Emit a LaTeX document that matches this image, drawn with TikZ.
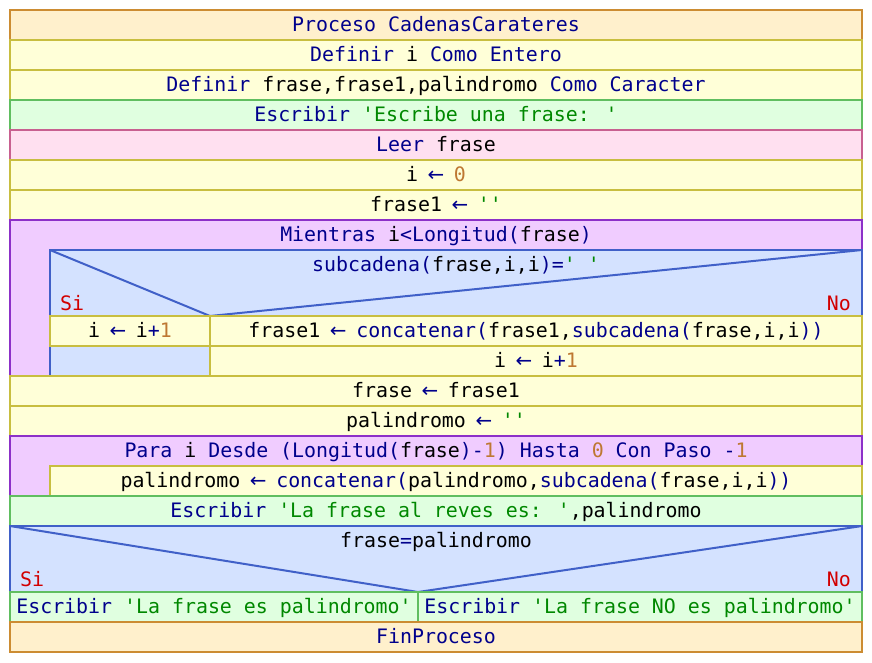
\documentclass[tikz,border=0pt]{standalone}
\usepackage{fontspec}
\usepackage{xcolor}
\usepackage{tikz}
\usetikzlibrary{positioning,calc}
\newfontfamily\psmono{DejaVu Sans Mono}
\newfontfamily\psarrow{DejaVu Sans}

\definecolor{kwblue}{RGB}{0,0,140}
\definecolor{txgreen}{RGB}{0,136,0}
\definecolor{nrbrown}{RGB}{190,120,50}
\definecolor{sinored}{RGB}{210,0,0}
\definecolor{procfill}{RGB}{255,240,204}
\definecolor{procline}{RGB}{204,140,50}
\definecolor{deffill}{RGB}{255,255,216}
\definecolor{defline}{RGB}{200,190,64}
\definecolor{escfill}{RGB}{224,255,224}
\definecolor{escline}{RGB}{96,190,96}
\definecolor{leerfill}{RGB}{255,224,240}
\definecolor{leerline}{RGB}{200,96,144}
\definecolor{loopfill}{RGB}{240,204,255}
\definecolor{loopline}{RGB}{140,48,200}
\definecolor{sifill}{RGB}{212,226,255}
\definecolor{siline}{RGB}{64,96,200}

% Farben fuer den Pseudocode
\newcommand{\kw}[1]{\textcolor{kwblue}{#1}}
\newcommand{\tx}[1]{\textcolor{txgreen}{#1}}
\newcommand{\nr}[1]{\textcolor{nrbrown}{#1}}
% Zuweisungspfeil, breiter als im Mono-Font, aber nur eine Zelle breit
\newcommand{\asig}{\makebox[0.602em][c]{\kw{\psarrow ←}}}

\tikzset{
  caja/.style={draw=#1line, fill=#1fill, line width=2pt, inner sep=0pt, outer sep=0pt,
    anchor=north west, minimum height=30pt, text height=16pt, text depth=3pt,
    font=\psmono\fontsize{19.9}{24}\selectfont},
  texto/.style={inner sep=0pt, anchor=base, font=\psmono\fontsize{19.9}{24}\selectfont},
  sino/.style={inner sep=0pt, text=sinored, font=\psmono\fontsize{19.9}{24}\selectfont},
  diag/.style={draw=siline, line width=2pt},
}

\begin{document}
\begin{tikzpicture}[x=1pt,y=-1pt]
\useasboundingbox (0,0) rectangle (872,662);
  \pgfmathsetmacro{\B}{852}
%Kopf
\node[caja=proc, minimum width=\B pt] (proceso) at (10,10) {\kw{Proceso CadenasCarateres}};
\node[caja=def, minimum width=\B pt] (defi) at (10,40) {\kw{Definir} i \kw{Como Entero}};
\node[caja=def, minimum width=\B pt] (deffrase) at (10,70) {\kw{Definir} frase,frase1,palindromo \kw{Como Caracter}};
\node[caja=esc, minimum width=\B pt] (escr1) at (10,100) {\kw{Escribir} \tx{'Escribe una frase: '}};
\node[caja=leer, minimum width=\B pt] (leer) at (10,130) {\kw{Leer} frase};
\node[caja=def, minimum width=\B pt] (asigi) at (10,160) {i \asig{} \nr{0}};
\node[caja=def, minimum width=\B pt] (asigfr) at (10,190) {frase1 \asig{} \tx{''}};
%Mientras
\node[caja=loop, minimum width=\B pt, minimum height=156pt] (mientras) at (10,220) {};
\node[texto] (mientrasT) at (436,241.5) {\kw{Mientras} i\kw{<Longitud(}frase\kw{)}};
\node[caja=si, minimum width=812pt, minimum height=126pt] (si1) at (50,250) {};
\coordinate (v1) at (210,316);
\draw[diag] (si1.north west) -- (v1) -- (si1.north east);
\node[texto] (si1T) at (456,271.5) {\kw{subcadena(}frase,i,i\kw{)=}\tx{' '}};
\node[sino, anchor=base west] (si1si) at (60,310) {Si};
\node[sino, anchor=base east] (si1no) at (851,310) {No};
\node[caja=def, minimum width=160pt] (incr1) at (50,316) {i \asig{} i\kw{+}\nr{1}};
\node[caja=def, minimum width=652pt] (concat1) at (210,316) {frase1 \asig{} \kw{concatenar(}frase1,\kw{subcadena(}frase,i,i\kw{))}};
\node[caja=def, minimum width=652pt] (incr2) at (210,346) {i \asig{} i\kw{+}\nr{1}};
%nach der Schleife
\node[caja=def, minimum width=\B pt] (asigfr2) at (10,376) {frase \asig{} frase1};
\node[caja=def, minimum width=\B pt] (asigpal) at (10,406) {palindromo \asig{} \tx{''}};
%Para
\node[caja=loop, minimum width=\B pt, minimum height=60pt] (para) at (10,436) {};
\node[texto] (paraT) at (436,457.5) {\kw{Para} i \kw{Desde (Longitud(}frase\kw{)-}\nr{1}\kw{) Hasta} \nr{0} \kw{Con Paso -}\nr{1}};
\node[caja=def, minimum width=812pt] (concat2) at (50,466) {palindromo \asig{} \kw{concatenar(}palindromo,\kw{subcadena(}frase,i,i\kw{))}};
\node[caja=esc, minimum width=\B pt] (escr2) at (10,496) {\kw{Escribir} \tx{'La frase al reves es: '},palindromo};
%Si frase=palindromo
\node[caja=si, minimum width=\B pt, minimum height=66pt] (si2) at (10,526) {};
\coordinate (v2) at (418,592);
\draw[diag] (si2.north west) -- (v2) -- (si2.north east);
\node[texto] (si2T) at (436,547.5) {frase\kw{=}palindromo};
\node[sino, anchor=base west] (si2si) at (20,586) {Si};
\node[sino, anchor=base east] (si2no) at (851,586) {No};
\node[caja=esc, minimum width=408pt] (escr3) at (10,592) {\kw{Escribir} \tx{'La frase es palindromo'}};
\node[caja=esc, minimum width=444pt] (escr4) at (418,592) {\kw{Escribir} \tx{'La frase NO es palindromo'}};
\node[caja=proc, minimum width=\B pt] (fin) at (10,622) {\kw{FinProceso}};
\end{tikzpicture}
\end{document}
